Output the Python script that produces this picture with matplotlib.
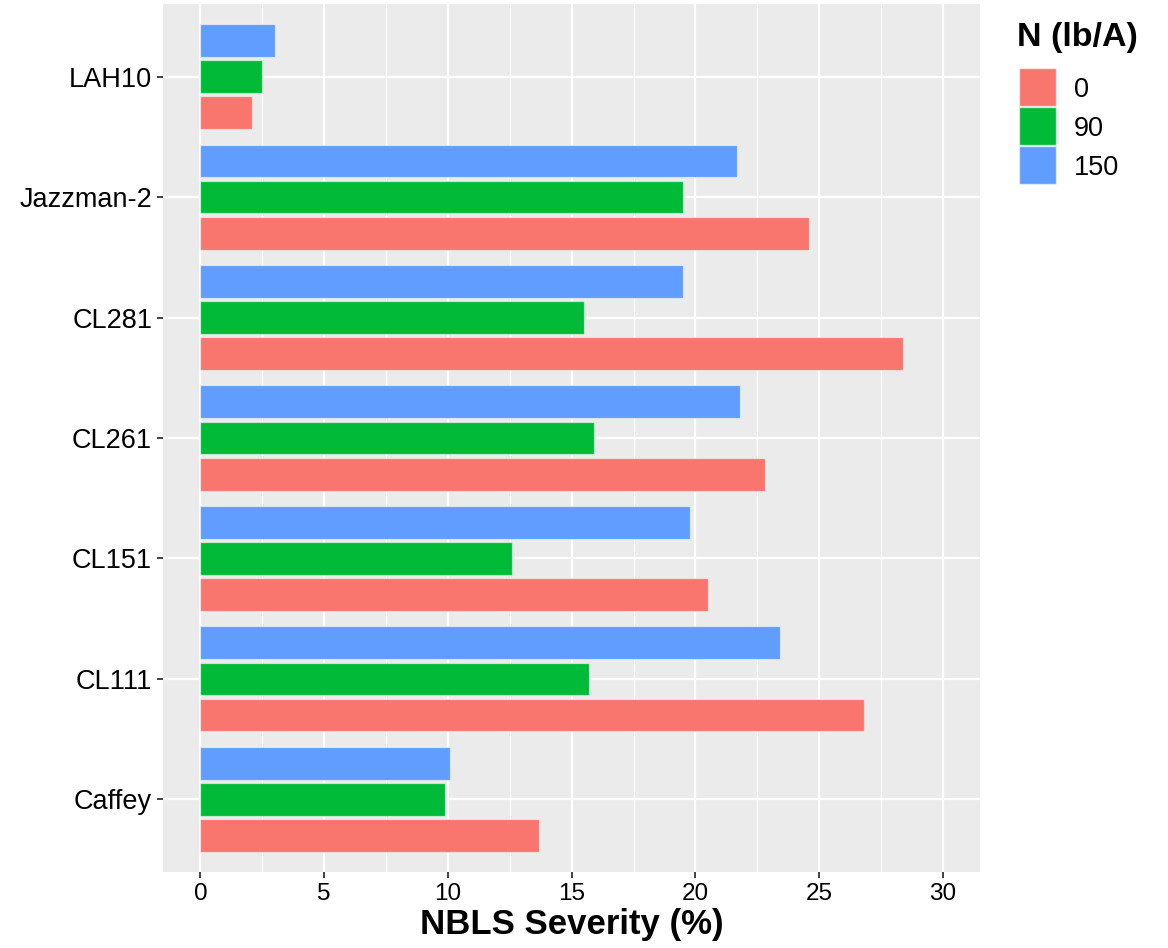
import matplotlib.pyplot as plt
from matplotlib.patches import Rectangle
import numpy as np

plt.rcParams['font.family'] = ['Liberation Sans', 'DejaVu Sans']

varieties = ["Caffey", "CL111", "CL151", "CL261", "CL281", "Jazzman-2", "LAH10"]
n_levels = ["0", "90", "150"]
colors = ["#F8766D", "#00BA38", "#619CFF"]

# NBLS severity (%) per variety, one list per N rate
sev_0 = [13.7, 26.8, 20.5, 22.8, 28.4, 24.6, 2.1]
sev_90 = [9.9, 15.7, 12.6, 15.9, 15.5, 19.5, 2.5]
sev_150 = [10.1, 23.4, 19.8, 21.8, 19.5, 21.7, 3.0]
series = [sev_0, sev_90, sev_150]

W, H = 1168, 948
fig = plt.figure(figsize=(W / 100, H / 100), dpi=100)
ax = fig.add_axes([163.3 / W, 1 - 871.7 / H, (980 - 163.3) / W, (871.7 - 4.3) / H])
ax.set_facecolor("#EBEBEB")

y = np.arange(1, len(varieties) + 1)
step = 0.3  # dodge spacing
for i, (vals, col) in enumerate(zip(series, colors)):
    ax.barh(y + (i - 1) * step, vals, height=0.272, color=col,
            edgecolor=(1, 1, 1, 0.55), linewidth=0.9, zorder=3)

ax.set_xlim(-1.5, 31.5)
ax.set_ylim(0.4, len(varieties) + 0.6)
ax.set_xticks(np.arange(0, 31, 5))
ax.set_xticks(np.arange(2.5, 30, 5), minor=True)
ax.set_yticks(y)
ax.set_yticklabels(varieties)

ax.grid(which="major", color="white", linewidth=1.6, zorder=0)
ax.grid(which="minor", axis="x", color="white", linewidth=0.8, zorder=0)
ax.set_axisbelow(True)
for s in ax.spines.values():
    s.set_visible(False)

ax.tick_params(axis="x", which="major", length=4, width=1.3, color="#333333",
               labelsize=17.5, pad=4, labelcolor="black")
ax.tick_params(axis="y", which="major", length=4, width=1.3, color="#333333",
               labelsize=19.5, pad=4, labelcolor="black")
ax.tick_params(which="minor", length=0)

fig.text(572 / W, 1 - 934 / H, "NBLS Severity (%)", fontsize=25,
         fontweight="bold", ha="center", va="baseline")


# legend drawn by hand in pixel coordinates
def fx(px):
    return px / W


def fy(py):
    return 1 - py / H


fig.text(fx(1017), fy(46), "N (lb/A)", fontsize=24.5, fontweight="bold",
         ha="left", va="baseline")
key_top = 68.3
pitch = 39.0
for i, (lab, col) in enumerate(zip(n_levels, colors)):
    top = key_top + i * pitch
    fig.add_artist(Rectangle((fx(1019.3), fy(top + 37.4)), 36.7 / W, 37.4 / H,
                             transform=fig.transFigure, facecolor=col,
                             edgecolor=(1, 1, 1, 0.6), linewidth=1.0))
    fig.text(fx(1074), fy(top + 18.7), lab, fontsize=19.5, ha="left", va="center_baseline")

fig.savefig("out.png", dpi=100)
